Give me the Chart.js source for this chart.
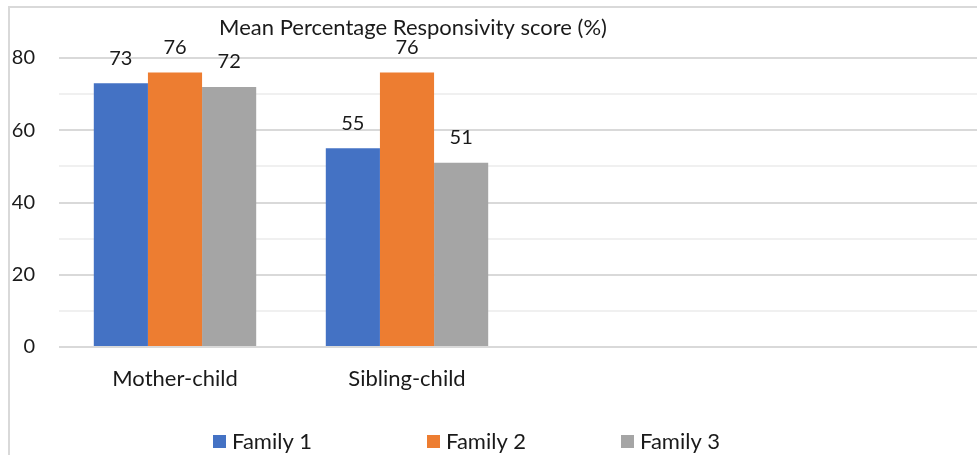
<!DOCTYPE html>
<html>
<head>
<meta charset="utf-8">
<script src="https://cdn.jsdelivr.net/npm/chart.js@4"></script>
<style>
  html, body { margin: 0; padding: 0; background: #fff; overflow: hidden; }
  #wrap { position: relative; width: 1000px; height: 455px; }
</style>
</head>
<body>
<div id="wrap"><canvas id="chart" width="1000" height="455"></canvas></div>
<script>
const categories = ['Mother-child', 'Sibling-child', '', '']
const family1 = [73, 55, null, null]
const family2 = [76, 76, null, null]
const family3 = [72, 51, null, null]
const seriesNames = ['Family 1', 'Family 2', 'Family 3']
const chartTitle = 'Mean Percentage Responsivity score (%)'

const colors = ['#4472C4', '#ED7D31', '#A5A5A5']
const fontFamily = 'Lato, "Open Sans", sans-serif'
const textColor = '#1a1a1a'

// title, frame, value labels and legend drawn by hand to sit where the original has them
const extras = {
    id: 'extras',
    beforeDraw(chart) {
        const ctx = chart.ctx
        ctx.save()
        ctx.strokeStyle = '#d9d9d9'
        ctx.lineWidth = 2
        ctx.beginPath()
        ctx.moveTo(9, 455)
        ctx.lineTo(9, 7)
        ctx.lineTo(chart.width, 7)
        ctx.stroke()
        ctx.restore()
    },
    afterDatasetsDraw(chart) {
        const ctx = chart.ctx
        ctx.save()
        ctx.font = '20px ' + fontFamily
        ctx.fillStyle = textColor
        ctx.textAlign = 'center'
        ctx.textBaseline = 'middle'
        chart.data.datasets.forEach((ds, i) => {
            const meta = chart.getDatasetMeta(i)
            meta.data.forEach((bar, j) => {
                if (ds.data[j] == null) return
                ctx.fillText(ds.data[j], bar.x, bar.y - 25)
            })
        })
        ctx.restore()
    },
    afterDraw(chart) {
        const ctx = chart.ctx
        ctx.save()
        ctx.fillStyle = textColor
        ctx.font = '22px ' + fontFamily
        ctx.textAlign = 'center'
        ctx.textBaseline = 'middle'
        ctx.fillText(chartTitle, 413, 28)

        const legendX = [213, 427, 621]
        ctx.textAlign = 'left'
        seriesNames.forEach((name, i) => {
            ctx.fillStyle = colors[i]
            ctx.fillRect(legendX[i], 435, 13, 13)
            ctx.fillStyle = textColor
            ctx.fillText(name, legendX[i] + 19, 442)
        })
        ctx.restore()
    }
}

const datasets = [family1, family2, family3].map((vals, i) => ({
    label: seriesNames[i],
    data: vals,
    backgroundColor: colors[i],
    borderWidth: 0,
    categoryPercentage: 0.7,
    barPercentage: 1.0
}))

const ctx = document.getElementById('chart').getContext('2d')
const chart = new Chart(ctx, {
    type: 'bar',
    data: { labels: categories, datasets: datasets },
    plugins: [extras],
    options: {
        responsive: false,
        animation: false,
        devicePixelRatio: 1,
        layout: { padding: { top: 58, right: 13, left: 0, bottom: 0 } },
        plugins: {
            legend: { display: false },
            title: { display: false },
            tooltip: { enabled: false }
        },
        scales: {
            x: {
                grid: { display: false },
                border: { display: false },
                ticks: {
                    color: textColor,
                    font: { family: fontFamily, size: 22 },
                    padding: 11,
                    maxRotation: 0
                },
                afterFit(scale) { scale.height = 108 }
            },
            y: {
                min: 0,
                max: 80,
                border: { display: false },
                grid: {
                    drawTicks: false,
                    lineWidth: 2,
                    color: (c) => c.tick && c.tick.value % 20 === 0 ? '#d9d9d9' : '#f0f0f0'
                },
                ticks: {
                    stepSize: 10,
                    color: textColor,
                    font: { family: fontFamily, size: 20 },
                    padding: 24,
                    callback: (v) => v % 20 === 0 ? v : ''
                },
                afterFit(scale) { scale.width = 59 }
            }
        }
    }
})
</script>
</body>
</html>
